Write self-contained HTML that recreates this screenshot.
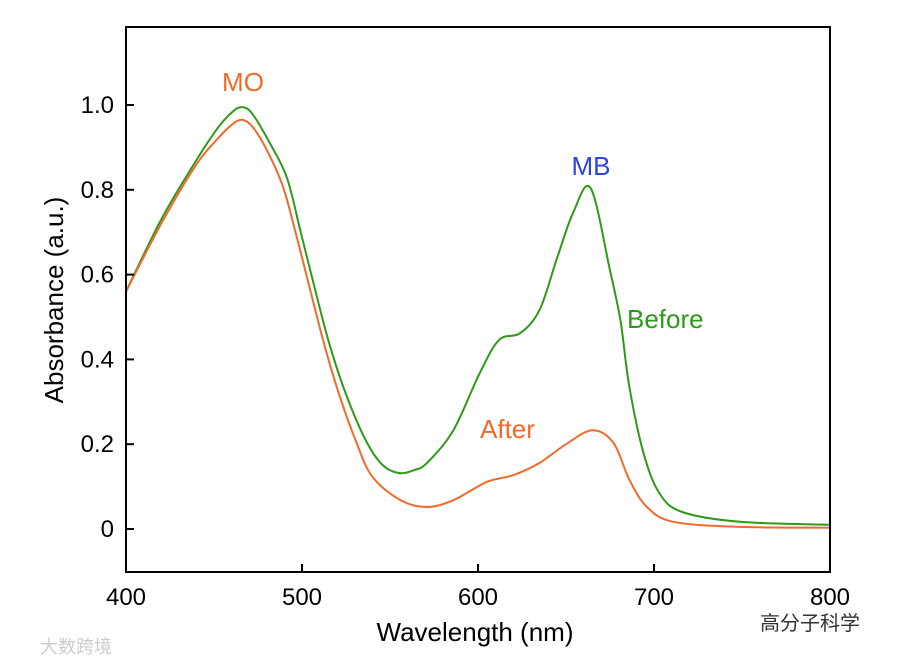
<!DOCTYPE html>
<html><head><meta charset="utf-8"><style>
body{margin:0;background:#fff;width:900px;height:663px;overflow:hidden}
svg text{font-family:"Liberation Sans","Noto Sans CJK SC",sans-serif}
</style></head><body>
<svg id="chart" width="900" height="663">
<g id="marks"></g>
<rect x="126" y="27" width="704" height="545" fill="none" stroke="#000" stroke-width="2"/>
<g id="axes"></g>
<text x="475" y="641" font-size="26" text-anchor="middle">Wavelength (nm)</text>
<text transform="translate(63,300) rotate(-90)" font-size="26" text-anchor="middle">Absorbance (a.u.)</text>
<text x="243" y="91" font-size="26" fill="#f26a2a" text-anchor="middle">MO</text>
<text x="591" y="175" font-size="26" fill="#2a44e0" text-anchor="middle">MB</text>
<text x="627" y="328" font-size="26" fill="#2e9a18">Before</text>
<text x="480" y="438" font-size="26" fill="#f26a2a">After</text>
<text x="760" y="630" font-size="20" fill="#333">高分子科学</text>
<text x="40" y="653" font-size="18" fill="#ccc">大数跨境</text>
</svg>
<script>
const beforeX=[400,420,440,452,460,466,472,482,491.5,499,508.5,516,525.6,537,546,555,563,571,586,601,612,624,635,645,654,664,675,681,686,694,703,716,749,800];
const beforeY=[0.56,0.73,0.87,0.945,0.982,0.995,0.978,0.908,0.828,0.705,0.547,0.43,0.311,0.203,0.15,0.132,0.138,0.156,0.233,0.368,0.446,0.462,0.517,0.64,0.745,0.804,0.61,0.49,0.335,0.18,0.085,0.04,0.017,0.01];
const afterX=[400,420,440,452,460,466,472,480,489,496,505.7,513,521.6,531,540,556,571,586,605,620,635,650,665,677,686,696,711,749,800];
const afterY=[0.56,0.72,0.86,0.92,0.953,0.965,0.948,0.894,0.81,0.705,0.547,0.43,0.311,0.203,0.123,0.068,0.052,0.068,0.111,0.127,0.156,0.2,0.233,0.203,0.116,0.052,0.017,0.005,0.003];
const xTicks=[400,500,600,700,800];
const yTicks=[0,0.2,0.4,0.6,0.8,1.0];
const yTickLabels=["0","0.2","0.4","0.6","0.8","1.0"];
const NS="http://www.w3.org/2000/svg";
const sx=v=>126+(v-400)*704/400;
const sy=v=>529-v*424;
const marks=document.getElementById('marks'),axes=document.getElementById('axes');
function line(xs,ys,color,name){
  const P=xs.map((x,i)=>[sx(x),sy(ys[i])]);
  let d='M'+P[0][0].toFixed(1)+','+P[0][1].toFixed(1);
  for(let i=0;i<P.length-1;i++){
    const p0=P[Math.max(0,i-1)],p1=P[i],p2=P[i+1],p3=P[Math.min(P.length-1,i+2)];
    const c1=[p1[0]+(p2[0]-p0[0])/6,p1[1]+(p2[1]-p0[1])/6];
    const c2=[p2[0]-(p3[0]-p1[0])/6,p2[1]-(p3[1]-p1[1])/6];
    d+='C'+c1[0].toFixed(1)+','+c1[1].toFixed(1)+' '+c2[0].toFixed(1)+','+c2[1].toFixed(1)+' '+p2[0].toFixed(1)+','+p2[1].toFixed(1);
  }
  const p=document.createElementNS(NS,'path');
  p.setAttribute('d',d);
  p.setAttribute('fill','none');p.setAttribute('stroke',color);p.setAttribute('stroke-width','2');p.setAttribute('stroke-linejoin','round');
  
  
  marks.appendChild(p);
}
line(beforeX,beforeY,'#2e9a18','before-line');
line(afterX,afterY,'#f26a2a','after-line');
xTicks.forEach(v=>{
  const t=document.createElementNS(NS,'line');
  t.setAttribute('x1',sx(v));t.setAttribute('x2',sx(v));t.setAttribute('y1',572);t.setAttribute('y2',564);t.setAttribute('stroke','#000');t.setAttribute('stroke-width','2');
  
  
  axes.appendChild(t);
  const l=document.createElementNS(NS,'text');
  l.setAttribute('x',sx(v));l.setAttribute('y',605);l.setAttribute('font-size','24');l.setAttribute('text-anchor','middle');l.textContent=v;
  
  
  axes.appendChild(l);
});
yTicks.forEach((v,i)=>{
  const t=document.createElementNS(NS,'line');
  t.setAttribute('x1',126);t.setAttribute('x2',134);t.setAttribute('y1',sy(v));t.setAttribute('y2',sy(v));t.setAttribute('stroke','#000');t.setAttribute('stroke-width','2');
  
  
  axes.appendChild(t);
  const l=document.createElementNS(NS,'text');
  l.setAttribute('x',114);l.setAttribute('y',sy(v)+8);l.setAttribute('font-size','24');l.setAttribute('text-anchor','end');l.textContent=yTickLabels[i];
  
  
  axes.appendChild(l);
});
</script>
</body></html>
